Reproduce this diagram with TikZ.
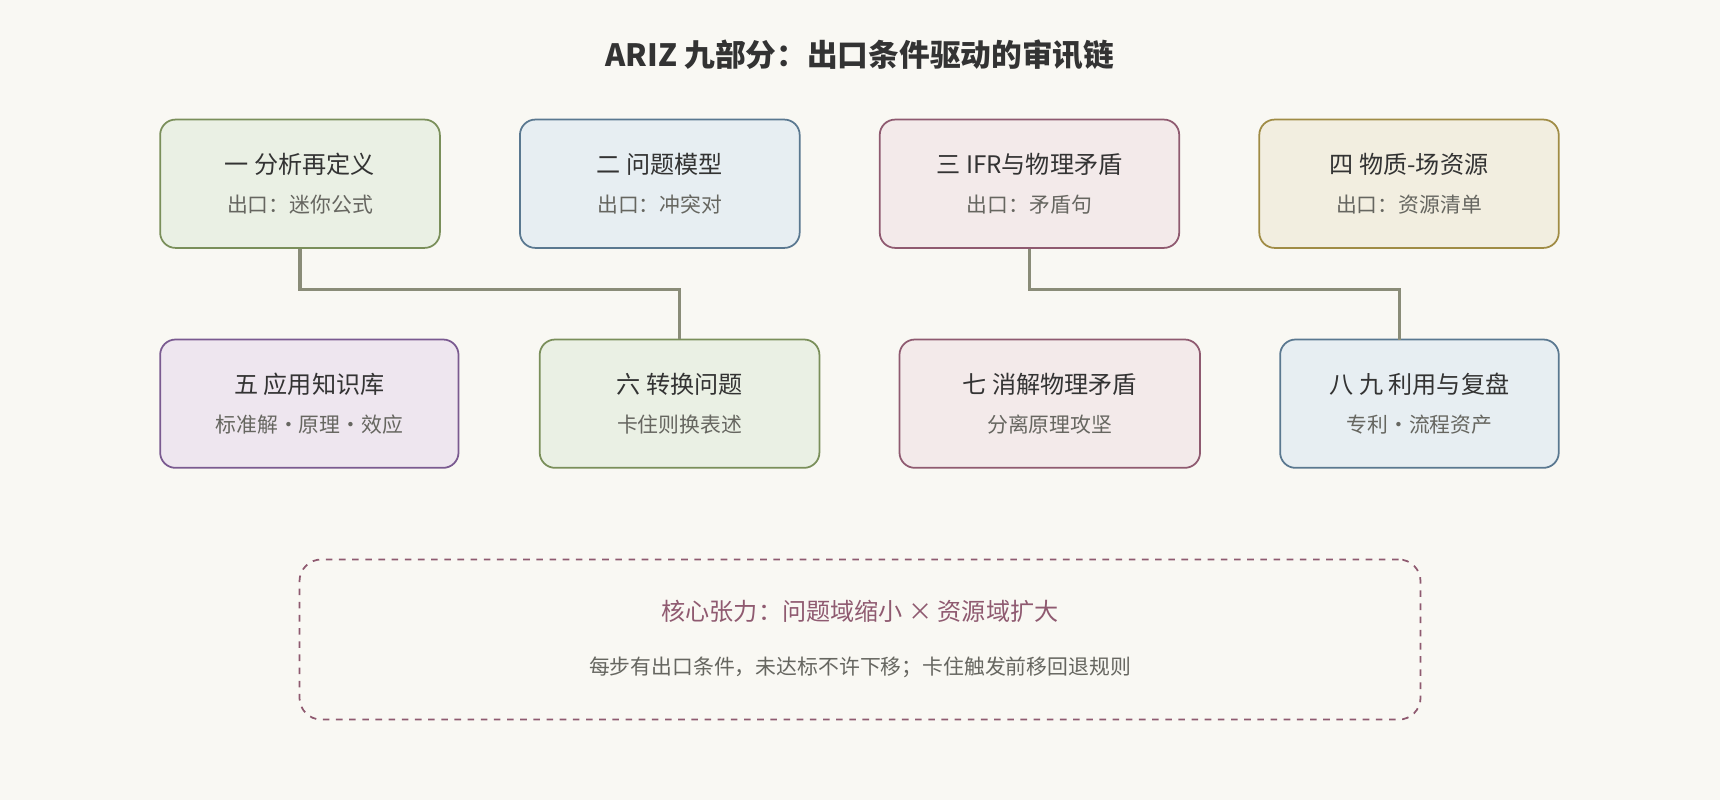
\documentclass[tikz,border=0pt]{standalone}
\usepackage{fontspec}
\setmainfont{Noto Sans CJK SC}
\usetikzlibrary{positioning}
\definecolor{bg}{HTML}{F9F8F3}
\definecolor{ink}{HTML}{333333}
\definecolor{sub}{HTML}{666660}
\definecolor{link}{HTML}{8A8C78}
\definecolor{gF}{HTML}{EAF0E4}\definecolor{gD}{HTML}{7A8F5A}
\definecolor{bF}{HTML}{E7EEF2}\definecolor{bD}{HTML}{5A7890}
\definecolor{rF}{HTML}{F3EAEA}\definecolor{rD}{HTML}{8F5A70}
\definecolor{yF}{HTML}{F2EEE0}\definecolor{yD}{HTML}{A08C45}
\definecolor{pF}{HTML}{EEE6EF}\definecolor{pD}{HTML}{7A5A90}
\tikzset{
  step/.style={draw=#1D, fill=#1F, line width=0.8pt, rounded corners=7pt,
    minimum height=58.5pt, align=center, text=ink, font=\fontsize{11}{13}\selectfont},
  wire/.style={draw=link, line width=1.5pt},
}
\newcommand{\exitline}[1]{\\[5pt]{\fontsize{9.5}{11}\selectfont\color{sub}#1}}
\begin{document}
\begin{tikzpicture}[x=0.5pt,y=-0.5pt]
  \useasboundingbox[fill=bg] (0,0) rectangle (1568,729);

  %% title
  \node[font=\bfseries\fontsize{14}{16}\selectfont, text=ink] (title) at (784,50) {ARIZ 九部分：出口条件驱动的审讯链};

  %% first row
  \node[step=g, minimum width=127.5pt] (s1) at (273.5,167.5) {一 分析再定义\exitline{出口：迷你公式}};
  \node[step=b, minimum width=127.5pt] (s2) at (601.5,167.5) {二 问题模型\exitline{出口：冲突对}};
  \node[step=r, minimum width=136.5pt] (s3) at (938.5,167.5) {三 IFR与物理矛盾\exitline{出口：矛盾句}};
  \node[step=y, minimum width=136.5pt] (s4) at (1284.5,167.5) {四 物质-场资源\exitline{出口：资源清单}};

  %% second row
  \node[step=p, minimum width=136pt] (s5) at (282,368) {五 应用知识库\exitline{标准解·原理·效应}};
  \node[step=g, minimum width=127.5pt] (s6) at (619.5,368) {六 转换问题\exitline{卡住则换表述}};
  \node[step=r, minimum width=137pt] (s7) at (957,368) {七 消解物理矛盾\exitline{分离原理攻坚}};
  \node[step=b, minimum width=127pt] (s8) at (1294,368) {八 九 利用与复盘\exitline{专利·流程资产}};

  %% links
  \draw[wire] (s1.south) |- (447,264) -| (s6.north);
  \coordinate (s8top) at (1276,310);
  \draw[wire] (s3.south) |- (1100,264) -| (s8top);

  %% core tension
  \node[draw=rD, dashed, line width=0.8pt, rounded corners=10pt, minimum width=511pt,
    minimum height=73pt] (core) at (784,583) {};
  \node[text=rD, font=\fontsize{11}{13}\selectfont] (tension) at (784,557) {核心张力：问题域缩小 × 资源域扩大};
  \node[text=sub, font=\fontsize{9.5}{11}\selectfont] (rule) at (784,608) {每步有出口条件，未达标不许下移；卡住触发前移回退规则};
\end{tikzpicture}
\end{document}
